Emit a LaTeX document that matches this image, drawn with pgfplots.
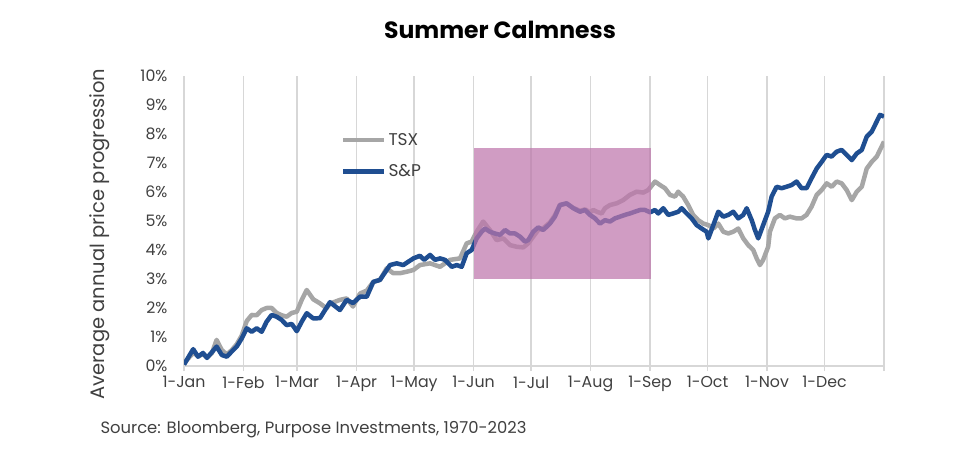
\documentclass[border=0pt]{standalone}
\usepackage{fontspec}
\setmainfont{Poppins}
\usepackage{pgfplots}
\pgfplotsset{compat=1.18}
\definecolor{tsxgray}{RGB}{166,166,166}
\definecolor{spblue}{RGB}{31,78,145}
\definecolor{summer}{RGB}{190,118,172}
\definecolor{gridgray}{RGB}{215,215,215}
\definecolor{txt}{RGB}{64,64,64}
\begin{document}
\begin{tikzpicture}
\path[use as bounding box] (0,0) rectangle (979pt,455pt);
\begin{axis}[
  at={(184pt,89pt)}, anchor=south west,
  scale only axis, width=700pt, height=290pt,
  xmin=0, xmax=365, ymin=0, ymax=10,
  axis x line*=bottom, axis y line*=left,
  axis line style={-},
  x axis line style={gridgray, line width=1.4pt},
  y axis line style={draw=none},
  xtick={0,31,59,90,120,151,181,212,243,273,304,334,365},
  xticklabels={1-Jan,1-Feb,1-Mar,1-Apr,1-May,1-Jun,1-Jul,1-Aug,1-Sep,1-Oct,1-Nov,1-Dec,},
  xmajorgrids, major grid style={gridgray, line width=1.5pt},
  xtick align=outside, major tick length=5pt,
  xtick style={gridgray, line width=1.4pt},
  ytick={0,1,...,10},
  ytick style={draw=none},
  yticklabel={\pgfmathprintnumber{\tick}\%},
  /pgf/number format/assume math mode=true,
  ticklabel style={font=\fontsize{15.8}{18}\selectfont, text=txt},
  yticklabel style={xshift=-13pt},
  xticklabel style={yshift=-2pt},
  legend style={draw=none, fill=none, at={(0.224,0.81)}, anchor=north west,
    font=\fontsize{17}{19}\selectfont, text=txt, row sep=14pt, inner sep=0pt,
    /tikz/every even column/.append style={column sep=3pt}},
  legend cell align=left,
  legend image code/.code={\draw[#1] (0pt,0pt) -- (41pt,0pt);},
]
\addplot[tsxgray, line width=4.5pt, line join=round] coordinates {
(0,0.1) (4.8,0.45) (7.3,0.35) (9.9,0.4) (12.0,0.3) (14.6,0.45) (17.0,0.9) (19.7,0.55) (22.3,0.4) (24.9,0.55) (27.5,0.75) (30.1,1.05) (32.7,1.55) (35.3,1.76) (37.9,1.75) (40.5,1.93) (43.1,2.0) (45.7,2.0) (48.3,1.83) (50.9,1.75) (53.5,1.7) (56.2,1.83) (58.8,1.87) (61.4,2.28) (64.0,2.62) (67.4,2.3) (70.9,2.16) (74.3,1.99) (76.1,2.15) (81.3,2.28) (84.8,2.33) (88.1,2.05) (91.8,2.5) (95.3,2.6) (98.7,2.9) (102.2,2.97) (105.7,3.37) (109.1,3.2) (112.6,3.2) (116.1,3.25) (119.6,3.31) (123.0,3.48) (128.3,3.54) (133.5,3.42) (138.7,3.66) (143.9,3.71) (147.4,4.23) (150.0,4.29) (152.6,4.63) (156.0,4.98) (159.5,4.69) (163.0,4.34) (166.5,4.4) (170.0,4.17) (173.5,4.11) (176.9,4.09) (179.5,4.23) (182.1,4.46) (184.7,4.69) (187.3,4.75) (190.8,4.95) (193.4,5.2) (196.0,5.55) (199.5,5.6) (203.0,5.45) (206.5,5.35) (209.1,5.4) (211.7,5.3) (213.4,5.38) (215.2,5.32) (217.8,5.26) (219.5,5.44) (222.1,5.55) (225.6,5.61) (229.0,5.72) (232.5,5.9) (236.0,6.01) (239.5,5.98) (242.1,6.07) (245.6,6.36) (248.2,6.24) (250.8,6.13) (253.4,5.9) (256.0,5.84) (257.7,6.01) (260.3,5.84) (262.9,5.55) (265.5,5.21) (268.1,5.03) (270.8,4.91) (273.4,4.86) (276.0,4.74) (278.6,4.91) (281.2,4.63) (283.8,4.57) (286.4,4.63) (289.0,4.74) (291.6,4.4) (294.2,4.17) (296.8,4.0) (298.6,3.71) (300.3,3.48) (302.0,3.66) (304.6,4.11) (305.5,4.63) (308.1,5.09) (310.7,5.21) (313.3,5.09) (315.9,5.15) (319.4,5.09) (322.0,5.09) (324.6,5.21) (327.2,5.49) (329.9,5.9) (332.5,6.07) (335.1,6.3) (337.7,6.18) (340.3,6.36) (342.9,6.3) (345.5,6.07) (348.2,5.72) (350.8,6.01) (353.4,6.18) (356.0,6.81) (358.6,7.04) (361.2,7.22) (363.8,7.57) (365,7.74)
};
\addlegendentry{TSX}
\addplot[spblue, line width=4.5pt, line join=round] coordinates {
(0,0.05) (4.8,0.58) (7.3,0.32) (9.9,0.45) (12.0,0.28) (14.6,0.48) (17.0,0.67) (19.7,0.38) (22.3,0.32) (24.9,0.5) (27.5,0.67) (30.1,0.95) (32.7,1.3) (35.3,1.18) (37.9,1.3) (40.5,1.18) (43.1,1.53) (45.7,1.76) (48.3,1.7) (50.9,1.59) (53.5,1.41) (56.2,1.45) (58.8,1.2) (61.4,1.53) (64.0,1.82) (67.4,1.64) (70.9,1.65) (76.1,2.2) (81.3,1.93) (84.8,2.28) (88.1,2.17) (91.8,2.39) (95.3,2.39) (98.7,2.9) (102.2,2.97) (107.4,3.48) (110.9,3.54) (114.3,3.48) (119.6,3.71) (123.0,3.8) (125.2,3.66) (128.3,3.83) (130.9,3.66) (133.5,3.71) (136.1,3.66) (139.6,3.42) (142.2,3.48) (144.8,3.42) (147.4,3.89) (150.0,4.0) (152.6,4.4) (155.2,4.63) (156.9,4.74) (159.5,4.63) (162.1,4.57) (164.8,4.52) (167.4,4.69) (170.0,4.57) (172.6,4.57) (175.2,4.46) (177.8,4.29) (179.5,4.34) (182.1,4.63) (184.7,4.78) (187.3,4.69) (190.8,4.91) (193.4,5.15) (196.0,5.55) (199.5,5.61) (203.0,5.44) (206.5,5.32) (209.1,5.38) (211.7,5.21) (214.3,5.09) (216.9,4.91) (219.5,5.03) (222.1,4.98) (224.7,5.09) (227.3,5.15) (229.9,5.21) (232.5,5.26) (235.1,5.32) (237.8,5.38) (240.4,5.38) (243.0,5.3) (245.6,5.38) (247.3,5.26) (249.9,5.44) (252.5,5.21) (255.1,5.26) (257.7,5.32) (259.5,5.44) (262.1,5.26) (264.7,5.09) (267.3,4.86) (269.9,4.74) (272.5,4.63) (273.4,4.4) (276.0,4.86) (278.6,5.32) (281.2,5.15) (283.8,5.21) (286.4,5.32) (289.0,5.09) (291.6,5.21) (293.4,5.44) (296.0,5.03) (297.7,4.69) (299.4,4.4) (302.0,4.86) (304.6,5.32) (306.4,5.84) (309.0,6.18) (311.6,6.13) (314.1,6.18) (316.8,6.24) (319.4,6.36) (322.0,6.13) (324.6,6.13) (327.2,6.47) (329.9,6.81) (332.5,7.04) (335.1,7.28) (337.7,7.22) (340.3,7.39) (342.9,7.45) (345.5,7.28) (348.2,7.1) (350.8,7.33) (353.4,7.45) (356.0,7.91) (358.6,8.08) (361.2,8.43) (362.9,8.66) (365,8.6)
};
\addlegendentry{S\&P}
\addplot[draw=none, fill=summer, fill opacity=0.72, forget plot] coordinates {(151.2,3) (243.4,3) (243.4,7.52) (151.2,7.52)} -- cycle;
\end{axis}
\node[font=\fontsize{23.5}{27}\selectfont\bfseries, anchor=center] at (500pt,425pt) {Summer Calmness};
\node[font=\fontsize{19.5}{22}\selectfont, text=txt, rotate=90, anchor=center] at (100pt,221pt) {Average annual price progression};
\node[font=\fontsize{16.4}{19}\selectfont, text=txt, anchor=west] at (97pt,25pt) {Source: Bloomberg, Purpose Investments, 1970-2023};
\end{tikzpicture}
\end{document}
